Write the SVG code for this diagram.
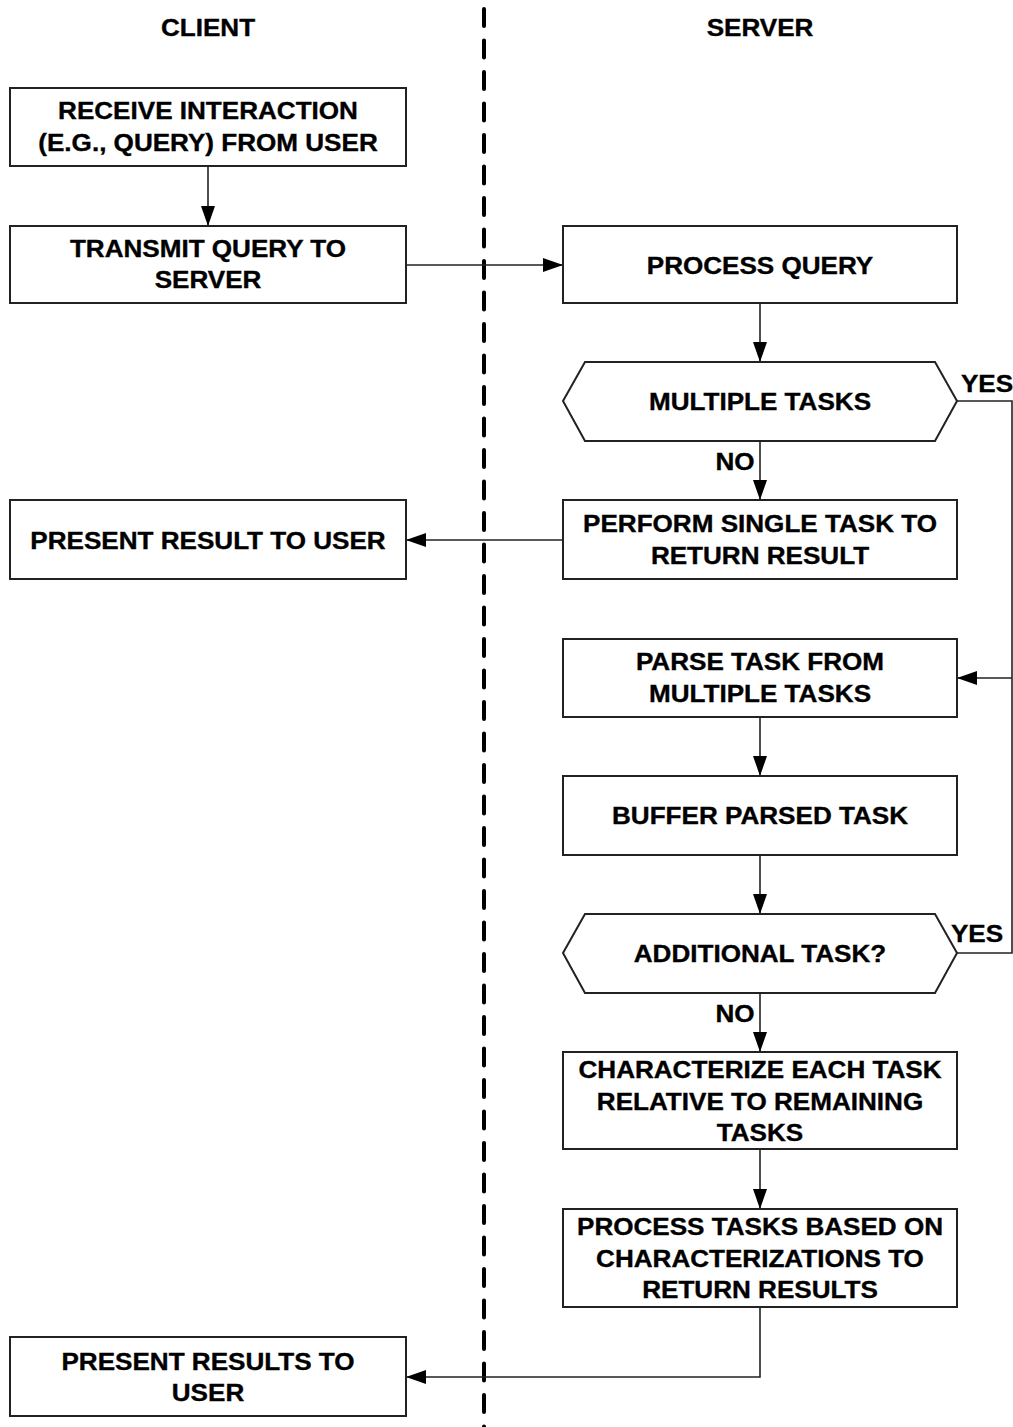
<svg xmlns="http://www.w3.org/2000/svg" width="1013" height="1427" viewBox="0 0 1013 1427">
<style>
text{font-family:"Liberation Sans",Arial,sans-serif;font-weight:bold;font-size:23.5px;fill:#000;stroke:#000;stroke-width:0.35px;text-anchor:middle}
.box{fill:#fff;stroke:#222;stroke-width:2}
.c{fill:none;stroke:#222;stroke-width:1.6}
</style>
<defs>
<marker id="ah" markerUnits="userSpaceOnUse" markerWidth="22" markerHeight="16" refX="20" refY="7" orient="auto">
<path d="M0,0 L20,7 L0,14 Z" fill="#000"/>
</marker>
</defs>
<rect width="1013" height="1427" fill="#fff"/>
<line x1="484" y1="9" x2="484" y2="1427" stroke="#000" stroke-width="4" stroke-dasharray="17 14.5" stroke-linecap="round"/>
<text transform="translate(208 0) scale(1.11 1)" y="36">CLIENT</text>
<text transform="translate(760 0) scale(1.11 1)" y="36">SERVER</text>
<g id="connectors">
<line class="c" x1="208" y1="166" x2="208" y2="226" marker-end="url(#ah)"/>
<line class="c" x1="406" y1="265" x2="563" y2="265" marker-end="url(#ah)"/>
<line class="c" x1="760" y1="303" x2="760" y2="362" marker-end="url(#ah)"/>
<line class="c" x1="760" y1="441" x2="760" y2="500" marker-end="url(#ah)"/>
<line class="c" x1="563" y1="540" x2="406" y2="540" marker-end="url(#ah)"/>
<polyline class="c" points="957,401 1012,401 1012,953 957,953"/>
<line class="c" x1="1012" y1="678" x2="957" y2="678" marker-end="url(#ah)"/>
<line class="c" x1="760" y1="717" x2="760" y2="776" marker-end="url(#ah)"/>
<line class="c" x1="760" y1="855" x2="760" y2="914" marker-end="url(#ah)"/>
<line class="c" x1="760" y1="993" x2="760" y2="1052" marker-end="url(#ah)"/>
<line class="c" x1="760" y1="1149" x2="760" y2="1209" marker-end="url(#ah)"/>
<polyline class="c" points="760,1307 760,1377 406,1377" marker-end="url(#ah)"/>
<text transform="translate(987 0) scale(1.11 1)" y="392">YES</text>
<text transform="translate(735 0) scale(1.11 1)" y="470">NO</text>
<text transform="translate(977 0) scale(1.11 1)" y="942">YES</text>
<text transform="translate(735 0) scale(1.11 1)" y="1022">NO</text>
</g>
<g id="receive">
<rect class="box" x="10" y="88" width="396" height="78"/>
<text transform="translate(208 0) scale(1.11 1)" y="119">RECEIVE INTERACTION</text>
<text transform="translate(208 0) scale(1.11 1)" y="151">(E.G., QUERY) FROM USER</text>
</g>
<g id="transmit">
<rect class="box" x="10" y="226" width="396" height="77"/>
<text transform="translate(208 0) scale(1.11 1)" y="257">TRANSMIT QUERY TO</text>
<text transform="translate(208 0) scale(1.11 1)" y="288">SERVER</text>
</g>
<g id="present-result">
<rect class="box" x="10" y="500" width="396" height="79"/>
<text transform="translate(208 0) scale(1.11 1)" y="549">PRESENT RESULT TO USER</text>
</g>
<g id="present-results">
<rect class="box" x="10" y="1337" width="396" height="79"/>
<text transform="translate(208 0) scale(1.11 1)" y="1370">PRESENT RESULTS TO</text>
<text transform="translate(208 0) scale(1.11 1)" y="1401">USER</text>
</g>
<g id="process-query">
<rect class="box" x="563" y="226" width="394" height="77"/>
<text transform="translate(760 0) scale(1.11 1)" y="274">PROCESS QUERY</text>
</g>
<g id="multiple-tasks">
<polygon class="box" points="563,401 585,362 935,362 957,401 935,441 585,441"/>
<text transform="translate(760 0) scale(1.11 1)" y="410">MULTIPLE TASKS</text>
</g>
<g id="perform-single">
<rect class="box" x="563" y="500" width="394" height="79"/>
<text transform="translate(760 0) scale(1.11 1)" y="532">PERFORM SINGLE TASK TO</text>
<text transform="translate(760 0) scale(1.11 1)" y="564">RETURN RESULT</text>
</g>
<g id="parse">
<rect class="box" x="563" y="639" width="394" height="78"/>
<text transform="translate(760 0) scale(1.11 1)" y="670">PARSE TASK FROM</text>
<text transform="translate(760 0) scale(1.11 1)" y="702">MULTIPLE TASKS</text>
</g>
<g id="buffer">
<rect class="box" x="563" y="776" width="394" height="79"/>
<text transform="translate(760 0) scale(1.11 1)" y="824">BUFFER PARSED TASK</text>
</g>
<g id="additional">
<polygon class="box" points="563,953 585,914 935,914 957,953 935,993 585,993"/>
<text transform="translate(760 0) scale(1.11 1)" y="962">ADDITIONAL TASK?</text>
</g>
<g id="characterize">
<rect class="box" x="563" y="1052" width="394" height="97"/>
<text transform="translate(760 0) scale(1.11 1)" y="1078">CHARACTERIZE EACH TASK</text>
<text transform="translate(760 0) scale(1.11 1)" y="1110">RELATIVE TO REMAINING</text>
<text transform="translate(760 0) scale(1.11 1)" y="1141">TASKS</text>
</g>
<g id="process-tasks">
<rect class="box" x="563" y="1209" width="394" height="98"/>
<text transform="translate(760 0) scale(1.11 1)" y="1235">PROCESS TASKS BASED ON</text>
<text transform="translate(760 0) scale(1.11 1)" y="1267">CHARACTERIZATIONS TO</text>
<text transform="translate(760 0) scale(1.11 1)" y="1298">RETURN RESULTS</text>
</g>
</svg>
